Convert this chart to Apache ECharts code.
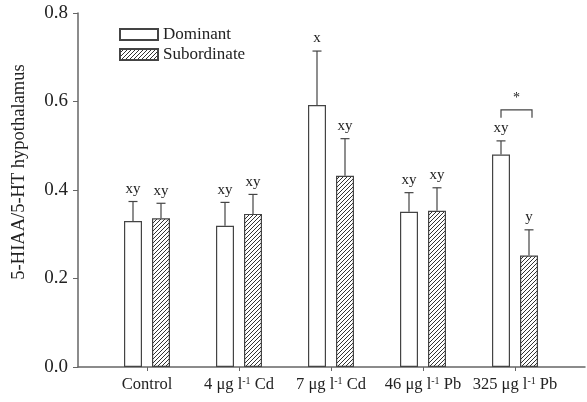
<!DOCTYPE html>
<html><head><meta charset="utf-8">
<script src="https://cdn.jsdelivr.net/npm/echarts@6/dist/echarts.min.js"></script>
<style>html,body{margin:0;padding:0;background:#fff}#c{width:587px;height:402px}</style>
</head><body><div id="c"></div>
<script>
const categories = ['Control', '4 μg l{s|-1} Cd', '7 μg l{s|-1} Cd', '46 μg l{s|-1} Pb', '325 μg l{s|-1} Pb'];
const dominant = [0.330, 0.319, 0.592, 0.351, 0.480];
const dominantErr = [0.044, 0.053, 0.122, 0.043, 0.031];
const subordinate = [0.336, 0.346, 0.432, 0.353, 0.252];
const subordinateErr = [0.034, 0.044, 0.084, 0.052, 0.058];
const dominantLetters = ['xy', 'xy', 'x', 'xy', 'xy'];
const subordinateLetters = ['xy', 'xy', 'xy', 'xy', 'y'];
const yTitle = '5-HIAA/5-HT hypothalamus';

const FONT = '"Liberation Serif", "Times New Roman", serif';
const INK = '#222';
const AXIS = '#666';
const EDGE = '#444';

// hatch pattern
const pc = document.createElement('canvas');
pc.width = 4; pc.height = 4;
const g = pc.getContext('2d');
g.fillStyle = '#fff'; g.fillRect(0,0,4,4);
g.strokeStyle = '#333'; g.lineWidth = 1;
g.beginPath();
g.moveTo(0,4); g.lineTo(4,0);
g.moveTo(-1,1); g.lineTo(1,-1);
g.moveTo(3,5); g.lineTo(5,3);
g.stroke();

const BAR_W = 18, BAR_GAP = 10;
const OFF = (BAR_W + BAR_GAP) / 2;

function errSeries(vals, errs, letters, sign) {
  return {
    type: 'custom',
    xAxisIndex: 0, yAxisIndex: 0,
    data: vals.map((v, i) => [i, v, v + errs[i]]),
    z: 5,
    renderItem: function (params, api) {
      const i = api.value(0);
      const p0 = api.coord([i, api.value(1)]);
      const p1 = api.coord([i, api.value(2)]);
      const x = p0[0] + sign * OFF;
      const children = [
        { type: 'line', shape: { x1: x, y1: p0[1], x2: x, y2: p1[1] }, style: { stroke: EDGE, lineWidth: 1.2 } },
        { type: 'line', shape: { x1: x - 4.5, y1: p1[1], x2: x + 4.5, y2: p1[1] }, style: { stroke: EDGE, lineWidth: 1.2 } },
        { type: 'text', x: x, y: p1[1] - 5, style: { text: letters[i], font: '15px ' + FONT, fill: INK, align: 'center', verticalAlign: 'bottom' } }
      ];
      return { type: 'group', children: children };
    }
  };
}

const chart = echarts.init(document.getElementById('c'));
chart.setOption({
  animation: false,
  backgroundColor: '#fff',
  textStyle: { fontFamily: FONT, color: INK },
  legend: {
    left: 114, top: 21, orient: 'vertical', itemWidth: 38, itemHeight: 11, itemGap: 3,
    icon: 'rect',
    textStyle: { fontFamily: FONT, fontSize: 17, color: INK },
    data: ['Dominant', 'Subordinate']
  },
  graphic: [
    { type: 'text', x: 19, y: 172, rotation: Math.PI / 2,
      style: { text: yTitle, font: '18.5px ' + FONT, fill: INK, align: 'center', verticalAlign: 'middle' } }
  ],
  grid: [
    { left: 101, right: 26, top: 13, bottom: 35 },
    { left: 78, right: 2, top: 13, bottom: 35 }
  ],
  xAxis: [
    {
      type: 'category', gridIndex: 0, data: categories,
      axisLine: { show: false },
      axisTick: { show: true, alignWithLabel: true, length: 4, lineStyle: { color: AXIS } },
      axisLabel: {
        interval: 0, margin: 9, fontFamily: FONT, fontSize: 16.5, color: INK,
        rich: { s: { fontSize: 10, fontFamily: FONT, color: INK, padding: [0, 0, 8, 0] } }
      }
    },
    {
      type: 'value', gridIndex: 1, min: 0, max: 1,
      axisLine: { show: true, onZero: false, lineStyle: { color: AXIS, width: 1.5 } },
      axisTick: { show: false }, axisLabel: { show: false }, splitLine: { show: false }
    }
  ],
  yAxis: [
    {
      type: 'value', gridIndex: 0, min: 0, max: 0.8, interval: 0.2, offset: 23,
      axisLine: { show: true, lineStyle: { color: AXIS, width: 1.5 } },
      axisTick: { show: true, length: 5, lineStyle: { color: AXIS } },
      axisLabel: { fontFamily: FONT, fontSize: 19, color: INK, margin: 10, formatter: v => v.toFixed(1) },
      splitLine: { show: false }
    },
    { type: 'value', gridIndex: 1, show: false, min: 0, max: 1 }
  ],
  series: [
    {
      name: 'Dominant', type: 'bar', data: dominant, barWidth: BAR_W, barGap: (BAR_GAP / BAR_W * 100) + '%',
      itemStyle: { color: '#fff', borderColor: EDGE, borderWidth: 1.2 }
    },
    {
      name: 'Subordinate', type: 'bar', data: subordinate, barWidth: BAR_W,
      itemStyle: { color: { image: pc, repeat: 'repeat' }, borderColor: EDGE, borderWidth: 1.2 }
    },
    errSeries(dominant, dominantErr, dominantLetters, -1),
    errSeries(subordinate, subordinateErr, subordinateLetters, 1),
    {
      type: 'custom', xAxisIndex: 0, yAxisIndex: 0, z: 5,
      data: [[4, 0.581, 0.563]],
      renderItem: function (params, api) {
        const i = api.value(0);
        const top = api.coord([i, api.value(1)]);
        const bot = api.coord([i, api.value(2)]);
        const xl = top[0] - OFF, xr = top[0] + OFF + 3;
        return { type: 'group', children: [
          { type: 'polyline', shape: { points: [[xl, bot[1]], [xl, top[1]], [xr, top[1]], [xr, bot[1]]] }, style: { stroke: EDGE, lineWidth: 1.2, fill: null } },
          { type: 'text', x: (xl + xr) / 2, y: top[1] - 5, style: { text: '*', font: '14px ' + FONT, fill: INK, align: 'center', verticalAlign: 'bottom' } }
        ] };
      }
    }
  ]
});
</script></body></html>
